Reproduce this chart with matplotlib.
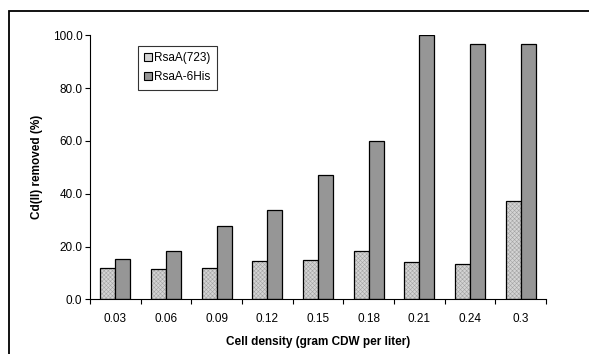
import matplotlib.pyplot as plt
from matplotlib.patches import Patch, Rectangle
import numpy as np

plt.rcParams['font.family'] = ['Liberation Sans', 'DejaVu Sans']
plt.rcParams['hatch.linewidth'] = 0.4

densities = ["0.03", "0.06", "0.09", "0.12", "0.15", "0.18", "0.21", "0.24", "0.3"]
rsaa_723 = [11.7, 11.4, 11.7, 14.6, 14.9, 18.4, 14.0, 13.3, 37.2]
rsaa_6his = [15.3, 18.4, 27.8, 33.7, 47.1, 60.0, 100.0, 96.6, 96.6]

fig = plt.figure(figsize=(5.89, 3.54), dpi=100)
ax = fig.add_axes([0.1528, 0.1545, 0.7742, 0.7458])

# outer chart-area frame (cut off at right and bottom like the original)
fig.patches.append(Rectangle((8.5 / 589, -0.05), 1.2, 1 - 10.5 / 354 + 0.05,
                             transform=fig.transFigure, fill=False,
                             edgecolor="black", linewidth=1.3))

x = np.arange(len(densities))
w = 0.296
light = "#d4d4d4"
dark = "#969696"
hatch_col = "#a4a4a4"

ax.bar(x - w / 2, rsaa_723, w, color=light, edgecolor=hatch_col,
       hatch="xxxxxxxx", linewidth=0)
ax.bar(x - w / 2, rsaa_723, w, fill=False, edgecolor="black", linewidth=0.9)
ax.bar(x + w / 2, rsaa_6his, w, color=dark, edgecolor="black", linewidth=0.9)

ax.set_xlim(-0.5, len(densities) - 0.5)
ax.set_ylim(0, 100)
ax.set_yticks(np.arange(0, 101, 20))
ax.set_yticklabels([f"{v:.1f}" for v in np.arange(0, 101, 20)])
ax.set_xticks(x)
ax.set_xticklabels(densities)
ax.set_xticks(np.arange(-0.5, len(densities)), minor=True)
ax.tick_params(axis="x", which="major", length=0, pad=10, labelsize=8.5)
ax.tick_params(axis="x", which="minor", length=3.5, width=0.8, direction="out")
ax.tick_params(axis="y", length=3.5, width=0.8, direction="out", labelsize=8.5, pad=2)

for s in ["top", "right"]:
    ax.spines[s].set_visible(False)
for s in ["left", "bottom"]:
    ax.spines[s].set_linewidth(0.8)

ax.set_xlabel("Cell density (gram CDW per liter)", fontsize=8.5, fontweight="bold", labelpad=8)
ax.set_ylabel("Cd(II) removed (%)", fontsize=8.5, fontweight="bold", labelpad=7)

handles = [Patch(facecolor=light, edgecolor="black", linewidth=0.8),
           Patch(facecolor=dark, edgecolor="black", linewidth=0.8)]
leg = ax.legend(handles, ["RsaA(723)", "RsaA-6His"], loc="upper left",
                bbox_to_anchor=(0.105, 0.96), fontsize=8.5, frameon=True,
                fancybox=False, edgecolor="black", handlelength=0.65,
                handleheight=0.65, handletextpad=0.2, borderpad=0.55,
                labelspacing=0.6, borderaxespad=0)
leg.get_frame().set_linewidth(0.8)

fig.savefig("out.png", dpi=100)
